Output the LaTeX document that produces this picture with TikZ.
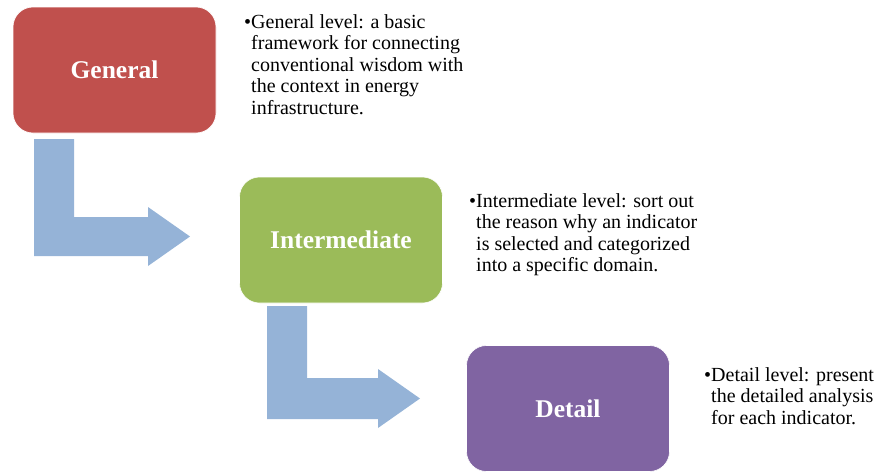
\documentclass[tikz,border=0pt]{standalone}
\usepackage{fontspec}
\setmainfont{Liberation Serif}
\definecolor{boxred}{HTML}{C0504D}
\definecolor{boxgreen}{HTML}{9BBB59}
\definecolor{boxpurple}{HTML}{8064A2}
\definecolor{arrowblue}{HTML}{95B3D7}
\tikzset{
  levelbox/.style={rounded corners=20pt, minimum width=203pt, minimum height=126pt,
    inner sep=0pt, draw=white, line width=0.6pt, text=white,
    font=\fontsize{25.5}{28}\selectfont\bfseries},
  desc/.style={anchor=base west, align=left, inner sep=0pt,
    font=\fontsize{20}{21.5}\selectfont, text=black},
  bentarrow/.style={fill=arrowblue, draw=none}
}
\begin{document}
\begin{tikzpicture}[x=1pt,y=-1pt]
\useasboundingbox (0,0) rectangle (891,471);
% boxes
\node[levelbox, fill=boxred] (general) at (114.5,70) {General};
\node[levelbox, fill=boxgreen] (inter) at (341,240) {Intermediate};
\node[levelbox, fill=boxpurple] (detail) at (568,408.5) {Detail};
% bent arrows
\fill[bentarrow] (34,139) -- (74,139) -- (74,217) -- (148,217) -- (148,207)
  -- (190,236.5) -- (148,266) -- (148,256) -- (34,256) -- cycle;
\fill[bentarrow] (267,306) -- (307,306) -- (307,378) -- (378,378) -- (378,369)
  -- (420,398.5) -- (378,428) -- (378,419) -- (267,419) -- cycle;
% descriptions (anchored at the baseline of the last line)
\node[desc] (gtext) at (251,114) {\llap{•}General level: a basic\\framework for connecting\\conventional wisdom with\\the context in energy\\infrastructure.};
\node[desc] (itext) at (476,271.5) {\llap{•}Intermediate level: sort out\\the reason why an indicator\\is selected and categorized\\into a specific domain.};
\node[desc] (dtext) at (711,424) {\llap{•}Detail level: present\\the detailed analysis\\for each indicator.};
\end{tikzpicture}
\end{document}
